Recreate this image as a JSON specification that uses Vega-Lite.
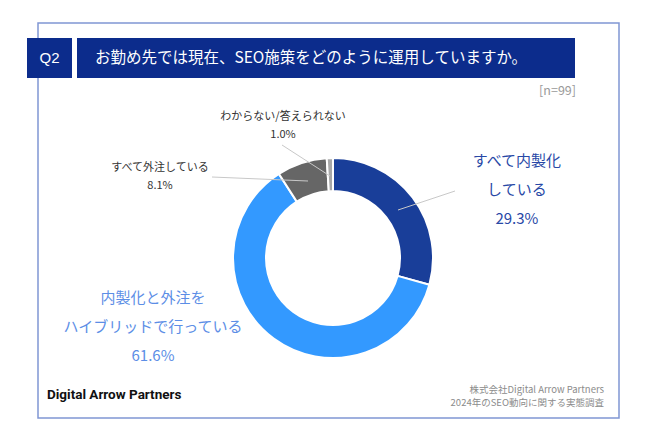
{
  "$schema": "https://vega.github.io/schema/vega-lite/v6.json",
  "width": 581,
  "height": 395,
  "autosize": {"type": "none"},
  "padding": {"left": 38, "top": 23, "right": 27, "bottom": 23},
  "background": "white",
  "view": {"stroke": "#8096d4", "strokeWidth": 1.5, "fill": "white"},
  "config": {"font": "Noto Sans CJK JP"},
  "data": {
    "values": [
      {"category": "すべて内製化している", "label": "すべて内製化\nしている\n29.3%", "pct": 29.3, "order": 1},
      {"category": "内製化と外注をハイブリッドで行っている", "label": "内製化と外注を\nハイブリッドで行っている\n61.6%", "pct": 61.6, "order": 2},
      {"category": "すべて外注している", "label": "すべて外注している\n8.1%", "pct": 8.1, "order": 3},
      {"category": "わからない/答えられない", "label": "わからない/答えられない\n1.0%", "pct": 1.0, "order": 4}
    ]
  },
  "encoding": {
    "theta": {"field": "pct", "type": "quantitative", "stack": true},
    "order": {"field": "order", "type": "quantitative"}
  },
  "layer": [
    {
      "data": {"values": [{}]},
      "mark": {"type": "rect", "color": "#0c2c8c"},
      "encoding": {"x": {"value": -11}, "x2": {"value": 34}, "y": {"value": 15}, "y2": {"value": 55}, "theta": null, "order": null}
    },
    {
      "data": {"values": [{}]},
      "mark": {"type": "rect", "color": "#0c2c8c"},
      "encoding": {"x": {"value": 39}, "x2": {"value": 537}, "y": {"value": 15}, "y2": {"value": 55}, "theta": null, "order": null}
    },
    {
      "data": {"values": [{}]},
      "mark": {"type": "text", "text": "Q2", "color": "white", "fontSize": 15, "font": "Liberation Sans", "align": "center", "baseline": "middle"},
      "encoding": {"x": {"value": 11.5}, "y": {"value": 35}, "theta": null, "order": null}
    },
    {
      "data": {"values": [{}]},
      "mark": {"type": "text", "text": "お勤め先では現在、SEO施策をどのように運用していますか。", "color": "white", "fontSize": 15.5, "align": "left", "baseline": "middle"},
      "encoding": {"x": {"value": 57}, "y": {"value": 35}, "theta": null, "order": null}
    },
    {
      "data": {"values": [{}]},
      "mark": {"type": "text", "text": "[n=99]", "color": "#9a9a9a", "fontSize": 12.5, "align": "right", "baseline": "middle"},
      "encoding": {"x": {"value": 538}, "y": {"value": 68}, "theta": null, "order": null}
    },
    {
      "mark": {"type": "arc", "outerRadius": 100, "innerRadius": 67, "stroke": "white", "strokeWidth": 2, "xOffset": 4.5, "yOffset": 37.5},
      "encoding": {
        "color": {
          "field": "category",
          "type": "nominal",
          "scale": {
            "domain": ["すべて内製化している", "内製化と外注をハイブリッドで行っている", "すべて外注している", "わからない/答えられない"],
            "range": ["#193e99", "#3399ff", "#666666", "#a8a8a8"]
          },
          "legend": null
        }
      }
    },
    {
      "data": {"values": [{}]},
      "mark": {"type": "rule", "color": "#c8c8c8", "strokeWidth": 1},
      "encoding": {"x": {"value": 360}, "y": {"value": 187}, "x2": {"value": 417}, "y2": {"value": 168}, "theta": null, "order": null}
    },
    {
      "data": {"values": [{}]},
      "mark": {"type": "rule", "color": "#c8c8c8", "strokeWidth": 1},
      "encoding": {"x": {"value": 174}, "y": {"value": 154}, "x2": {"value": 270}, "y2": {"value": 158}, "theta": null, "order": null}
    },
    {
      "data": {"values": [{}]},
      "mark": {"type": "rule", "color": "#c8c8c8", "strokeWidth": 1},
      "encoding": {"x": {"value": 244}, "y": {"value": 122}, "x2": {"value": 292}, "y2": {"value": 153}, "theta": null, "order": null}
    },
    {
      "mark": {"type": "text", "radius": 150, "lineBreak": "\n", "lineHeight": 29, "fontSize": 15, "color": "#2848a6", "align": "center", "baseline": "middle", "dx": 69, "dy": 31},
      "encoding": {"text": {"condition": {"test": "datum.order === 1", "field": "label"}, "value": ""}}
    },
    {
      "mark": {"type": "text", "radius": 150, "lineBreak": "\n", "lineHeight": 29, "fontSize": 15, "color": "#5c8ee6", "align": "center", "baseline": "middle", "dx": -86.6, "dy": -43.3},
      "encoding": {"text": {"condition": {"test": "datum.order === 2", "field": "label"}, "value": ""}}
    },
    {
      "mark": {"type": "text", "radius": 150, "lineBreak": "\n", "lineHeight": 18, "fontSize": 11, "color": "#333333", "align": "center", "baseline": "middle", "dx": -121.7, "dy": 90},
      "encoding": {"text": {"condition": {"test": "datum.order === 3", "field": "label"}, "value": ""}}
    },
    {
      "mark": {"type": "text", "radius": 150, "lineBreak": "\n", "lineHeight": 18, "fontSize": 11, "color": "#333333", "align": "center", "baseline": "middle", "dx": -40.8, "dy": 46},
      "encoding": {"text": {"condition": {"test": "datum.order === 4", "field": "label"}, "value": ""}}
    },
    {
      "data": {"values": [{}]},
      "mark": {"type": "text", "text": "Digital Arrow Partners", "color": "#111111", "fontSize": 13.5, "fontWeight": "bold", "font": "Roboto", "align": "left", "baseline": "middle"},
      "encoding": {"x": {"value": 9}, "y": {"value": 372}, "theta": null, "order": null}
    },
    {
      "data": {"values": [{}]},
      "mark": {"type": "text", "text": "株式会社Digital Arrow Partners\n2024年のSEO動向に関する実態調査", "lineBreak": "\n", "lineHeight": 13, "color": "#8c8c8c", "fontSize": 9.5, "align": "right", "baseline": "middle"},
      "encoding": {"x": {"value": 566}, "y": {"value": 367}, "theta": null, "order": null}
    }
  ]
}
